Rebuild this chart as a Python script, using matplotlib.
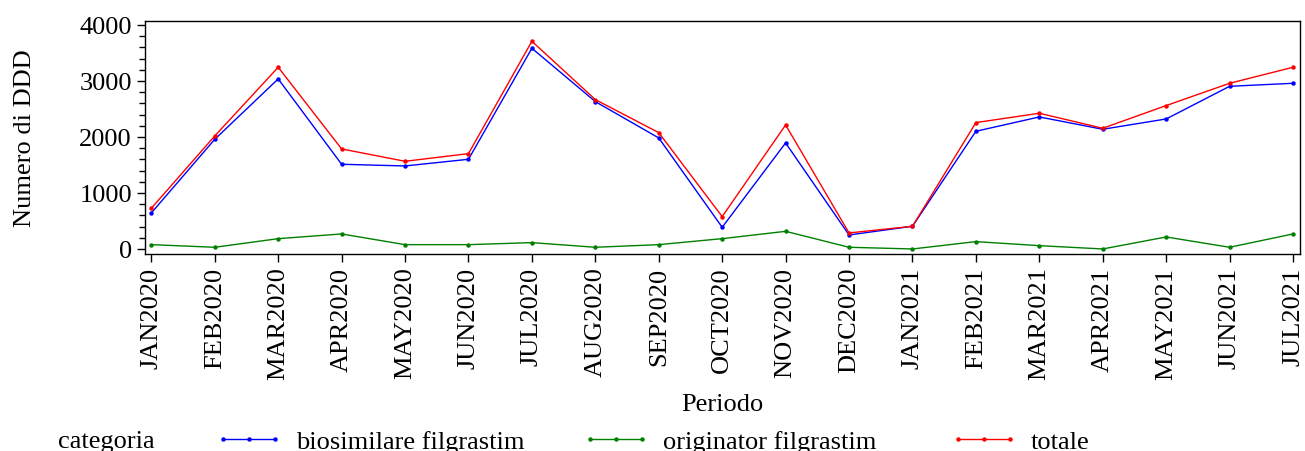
import matplotlib
matplotlib.use("Agg")
import matplotlib.pyplot as plt
from matplotlib.ticker import MultipleLocator
from matplotlib.lines import Line2D

periods = ["JAN2020", "FEB2020", "MAR2020", "APR2020", "MAY2020", "JUN2020",
           "JUL2020", "AUG2020", "SEP2020", "OCT2020", "NOV2020", "DEC2020",
           "JAN2021", "FEB2021", "MAR2021", "APR2021", "MAY2021", "JUN2021",
           "JUL2021"]
biosimilare = [643, 1958, 3036, 1512, 1482, 1601, 3583, 2631, 1982, 387, 1893,
               250, 405, 2101, 2357, 2137, 2321, 2904, 2958]
originator = [77, 30, 184, 268, 77, 77, 113, 30, 77, 184, 315, 30, 0, 131, 59,
              0, 214, 30, 268]
totale = [727, 2018, 3244, 1786, 1565, 1702, 3708, 2667, 2077, 577, 2214, 286,
          405, 2256, 2423, 2155, 2560, 2958, 3244]
series_names = ["biosimilare filgrastim", "originator filgrastim", "totale"]
colors = ["#0000ff", "#008000", "#ff0000"]

plt.rcParams["font.family"] = ["Liberation Serif", "DejaVu Serif"]

W, H = 1305, 452
fig = plt.figure(figsize=(W / 100, H / 100), dpi=100)
ax = fig.add_axes([145 / W, 1 - 255 / H, (1300 - 145) / W, (255 - 22) / H])

x = list(range(len(periods)))
handles = []
for vals, c in zip([biosimilare, originator, totale], colors):
    h, = ax.plot(x, vals, color=c, lw=1.0, marker="o", markersize=3.2,
                 markeredgewidth=0)
    handles.append(h)

ax.set_xlim(-0.1, len(periods) - 1 + 0.11)
ax.set_ylim(-90, 4070)
ax.yaxis.set_major_locator(MultipleLocator(1000))
ax.yaxis.set_minor_locator(MultipleLocator(200))
ax.set_xticks(x)
ax.set_xticklabels(periods, rotation=90, fontsize=19)
ax.tick_params(axis="y", labelsize=19, length=6, width=1, direction="out")
ax.tick_params(axis="y", which="minor", length=4, width=1)
ax.tick_params(axis="x", length=6, width=1, direction="out", pad=3)
for s in ax.spines.values():
    s.set_linewidth(1.0)

ax.set_ylabel("Numero di DDD", fontsize=19, labelpad=31)
ax.set_xlabel("Periodo", fontsize=19, labelpad=10)

# legend
ly = 1 - 442 / H
fig.text(58 / W, ly, "categoria", fontsize=19, va="center", ha="left")
for h, name, xs in zip(handles, series_names, [215, 582, 950]):
    lh = Line2D([], [], color=h.get_color(), lw=1.0, marker="o",
                markersize=3.2, markeredgewidth=0)
    fig.legend([lh], [name], loc="center left", bbox_to_anchor=(xs / W, ly),
               frameon=False, fontsize=19, borderpad=0, borderaxespad=0,
               handlelength=68 / 26.4, handletextpad=13 / 26.4, numpoints=3)

fig.savefig("out.png", dpi=100)
